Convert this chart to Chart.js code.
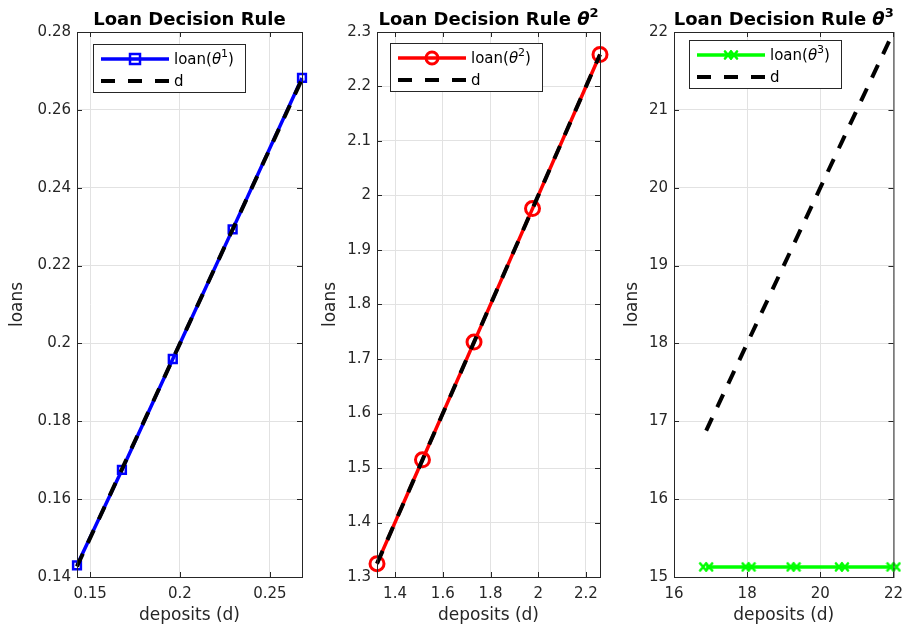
<!DOCTYPE html>
<html>
<head>
<meta charset="utf-8">
<script src="https://cdn.jsdelivr.net/npm/chart.js"></script>
<style>
  body { margin: 0; background: #fff; width: 911px; height: 631px; position: relative; overflow: hidden; }
  canvas { position: absolute; top: 0; }
</style>
</head>
<body>
<canvas id="c1" width="310" height="631" style="left:0"></canvas>
<canvas id="c2" width="300" height="631" style="left:310px"></canvas>
<canvas id="c3" width="301" height="631" style="left:610px"></canvas>
<script>
// panel 1: theta^1
const dep1 = [0.1427, 0.1677, 0.1960, 0.2293, 0.2679];
const loan1 = [0.1430, 0.1675, 0.1960, 0.2293, 0.2682];
const xt1 = [0.15, 0.2, 0.25];
const yt1 = [0.14, 0.16, 0.18, 0.2, 0.22, 0.24, 0.26, 0.28];

// panel 2: theta^2
const dep2 = [1.3245, 1.5150, 1.7310, 1.9760, 2.2587];
const loan2 = [1.3245, 1.5150, 1.7310, 1.9760, 2.2587];
const xt2 = [1.4, 1.6, 1.8, 2, 2.2];
const yt2 = [1.3, 1.4, 1.5, 1.6, 1.7, 1.8, 1.9, 2, 2.1, 2.2, 2.3];

// panel 3: theta^3
const dep3 = [16.88, 18.04, 19.27, 20.59, 22.0];
const loan3 = [15.13, 15.13, 15.13, 15.13, 15.13];
const xt3 = [16, 18, 20, 22];
const yt3 = [15, 16, 17, 18, 19, 20, 21, 22];

const FONT = '"DejaVu Sans", sans-serif';
const DASH = [14, 12];
const fmt = v => String(Math.round(v * 1000) / 1000);

// matlab style 'x' marker drawn thick looks like a double cross
function doubleX(color) {
  const c = document.createElement('canvas');
  c.width = 16; c.height = 12;
  const g = c.getContext('2d');
  g.strokeStyle = color; g.lineWidth = 2.6; g.lineCap = 'round';
  [5, 11].forEach(cx => {
    g.beginPath();
    g.moveTo(cx - 3, 2.5); g.lineTo(cx + 3, 9.5);
    g.moveTo(cx + 3, 2.5); g.lineTo(cx - 3, 9.5);
    g.stroke();
  });
  return c;
}
const greenX = doubleX('#00ff00');

function drawRich(ctx, parts, x, y, align) {
  let w = 0;
  parts.forEach(p => { ctx.font = p.font; w += ctx.measureText(p.t).width; });
  let cx = align === 'center' ? x - w / 2 : x;
  ctx.textBaseline = 'alphabetic';
  ctx.textAlign = 'left';
  parts.forEach(p => {
    ctx.font = p.font;
    ctx.fillText(p.t, cx, y + (p.dy || 0));
    cx += ctx.measureText(p.t).width;
  });
}

function marker(ctx, style, x, y, color) {
  ctx.save();
  ctx.strokeStyle = color;
  ctx.setLineDash([]);
  if (style === 'rect') {
    ctx.lineWidth = 2.5;
    ctx.strokeRect(x - 5, y - 5, 10, 10);
  } else if (style === 'circle') {
    ctx.lineWidth = 3;
    ctx.beginPath(); ctx.arc(x, y, 6, 0, Math.PI * 2); ctx.stroke();
  } else {
    ctx.drawImage(greenX, x - 8, y - 6);
  }
  ctx.restore();
}

const frame = {
  id: 'frame',
  afterDraw(chart, args, o) {
    const ctx = chart.ctx, a = chart.chartArea;
    const xs = chart.scales.x, ys = chart.scales.y;
    ctx.save();
    ctx.strokeStyle = '#262626';
    ctx.lineWidth = 1;
    ctx.strokeRect(a.left + 0.5, a.top + 0.5, a.right - a.left, a.bottom - a.top);
    ctx.beginPath();
    xs.ticks.forEach(t => {
      const px = Math.round(xs.getPixelForValue(t.value)) + 0.5;
      ctx.moveTo(px, a.bottom); ctx.lineTo(px, a.bottom - 5);
      ctx.moveTo(px, a.top); ctx.lineTo(px, a.top + 5);
    });
    ys.ticks.forEach(t => {
      const py = Math.round(ys.getPixelForValue(t.value)) + 0.5;
      ctx.moveTo(a.left, py); ctx.lineTo(a.left + 5, py);
      ctx.moveTo(a.right, py); ctx.lineTo(a.right - 5, py);
    });
    ctx.stroke();

    // title
    ctx.fillStyle = '#000';
    const tp = [{ t: 'Loan Decision Rule', font: 'bold 18px ' + FONT }];
    if (o.sup) {
      tp[0].t += ' ';
      tp.push({ t: 'θ', font: 'italic bold 18px ' + FONT });
      tp.push({ t: o.sup, font: 'bold 13px ' + FONT, dy: -8 });
    }
    drawRich(ctx, tp, (a.left + a.right) / 2, 25, 'center');

    // legend box
    const bx = a.left + o.lx, by = a.top + o.ly, bw = 152, bh = 48;
    ctx.fillStyle = '#fff';
    ctx.fillRect(bx, by, bw, bh);
    ctx.strokeStyle = '#262626';
    ctx.strokeRect(bx + 0.5, by + 0.5, bw, bh);
    const r1 = by + 15, r2 = by + 37;
    ctx.lineWidth = 3.5;
    ctx.strokeStyle = o.color;
    ctx.beginPath(); ctx.moveTo(bx + 8, r1); ctx.lineTo(bx + 76, r1); ctx.stroke();
    marker(ctx, o.marker, bx + 42, r1, o.color);
    ctx.strokeStyle = '#000';
    ctx.lineWidth = 4;
    ctx.setLineDash([14, 13]);
    ctx.beginPath(); ctx.moveTo(bx + 8, r2); ctx.lineTo(bx + 76, r2); ctx.stroke();
    ctx.setLineDash([]);
    ctx.fillStyle = '#000';
    drawRich(ctx, [
      { t: 'loan(', font: '15px ' + FONT },
      { t: 'θ', font: 'italic 15px ' + FONT },
      { t: o.n, font: '11px ' + FONT, dy: -7 },
      { t: ')', font: '15px ' + FONT }
    ], bx + 81, r1 + 5, 'left');
    drawRich(ctx, [{ t: 'd', font: '15px ' + FONT }], bx + 81, r2 + 5, 'left');
    ctx.restore();
  }
};

function panel(id, p) {
  new Chart(document.getElementById(id), {
    type: 'line',
    data: {
      datasets: [
        {
          label: 'loan',
          data: p.dep.map((v, i) => ({ x: v, y: p.loan[i] })),
          borderColor: p.color,
          backgroundColor: 'rgba(0,0,0,0)',
          borderWidth: 3.5,
          pointStyle: p.marker === 'cross' ? greenX : p.marker,
          pointRadius: p.marker === 'circle' ? 7 : 5.5,
          pointBorderWidth: p.marker === 'rect' ? 2.5 : 3,
          pointBorderColor: p.color,
          pointBackgroundColor: 'rgba(0,0,0,0)',
          clip: false,
          order: 1
        },
        {
          label: 'd',
          data: p.dep.map(v => ({ x: v, y: v })),
          borderColor: '#000',
          borderWidth: 4,
          borderDash: DASH,
          pointRadius: 0,
          clip: false,
          order: 0
        }
      ]
    },
    options: {
      responsive: false,
      animation: false,
      layout: { padding: { top: 32, right: p.pr, bottom: 0, left: 0 } },
      plugins: { legend: { display: false }, tooltip: { enabled: false }, frame: p.frame },
      scales: {
        x: {
          type: 'linear', min: p.xmin, max: p.xmax,
          afterBuildTicks: s => { s.ticks = p.xt.map(v => ({ value: v })); },
          afterFit: s => { s.height = 54; },
          grid: { color: '#e2e2e2', drawTicks: false },
          border: { display: false },
          ticks: { padding: 8, color: '#262626', font: { family: FONT, size: 15 }, callback: fmt, maxRotation: 0 },
          title: { display: true, text: 'deposits (d)', color: '#262626', font: { family: FONT, size: 17 }, padding: { top: 0, bottom: 5 } }
        },
        y: {
          type: 'linear', min: p.ymin, max: p.ymax,
          afterBuildTicks: s => { s.ticks = p.yt.map(v => ({ value: v })); },
          afterFit: s => { s.width = p.yw; },
          grid: { color: '#e2e2e2', drawTicks: false },
          border: { display: false },
          ticks: { padding: 6, color: '#262626', font: { family: FONT, size: 15 }, callback: fmt },
          title: { display: true, text: 'loans', color: '#262626', font: { family: FONT, size: 17 }, padding: { top: p.tp, bottom: 0 } }
        }
      }
    },
    plugins: [frame]
  });
}

panel('c1', { dep: dep1, loan: loan1, xt: xt1, yt: yt1, xmin: 0.1427, xmax: 0.2679, ymin: 0.14, ymax: 0.28,
  color: '#0000ff', marker: 'rect', yw: 77, pr: 8, tp: 7,
  frame: { lx: 16, ly: 12, color: '#0000ff', marker: 'rect', n: '1', sup: '' } });
panel('c2', { dep: dep2, loan: loan2, xt: xt2, yt: yt2, xmin: 1.3245, xmax: 2.2587, ymin: 1.3, ymax: 2.3,
  color: '#ff0000', marker: 'circle', yw: 67, pr: 10, tp: 10,
  frame: { lx: 13, ly: 11, color: '#ff0000', marker: 'circle', n: '2', sup: '2' } });
panel('c3', { dep: dep3, loan: loan3, xt: xt3, yt: yt3, xmin: 16, xmax: 22, ymin: 15, ymax: 22,
  color: '#00ff00', marker: 'cross', yw: 64, pr: 14, tp: 12,
  frame: { lx: 15, ly: 8, color: '#00ff00', marker: 'cross', n: '3', sup: '3' } });
</script>
</body>
</html>
